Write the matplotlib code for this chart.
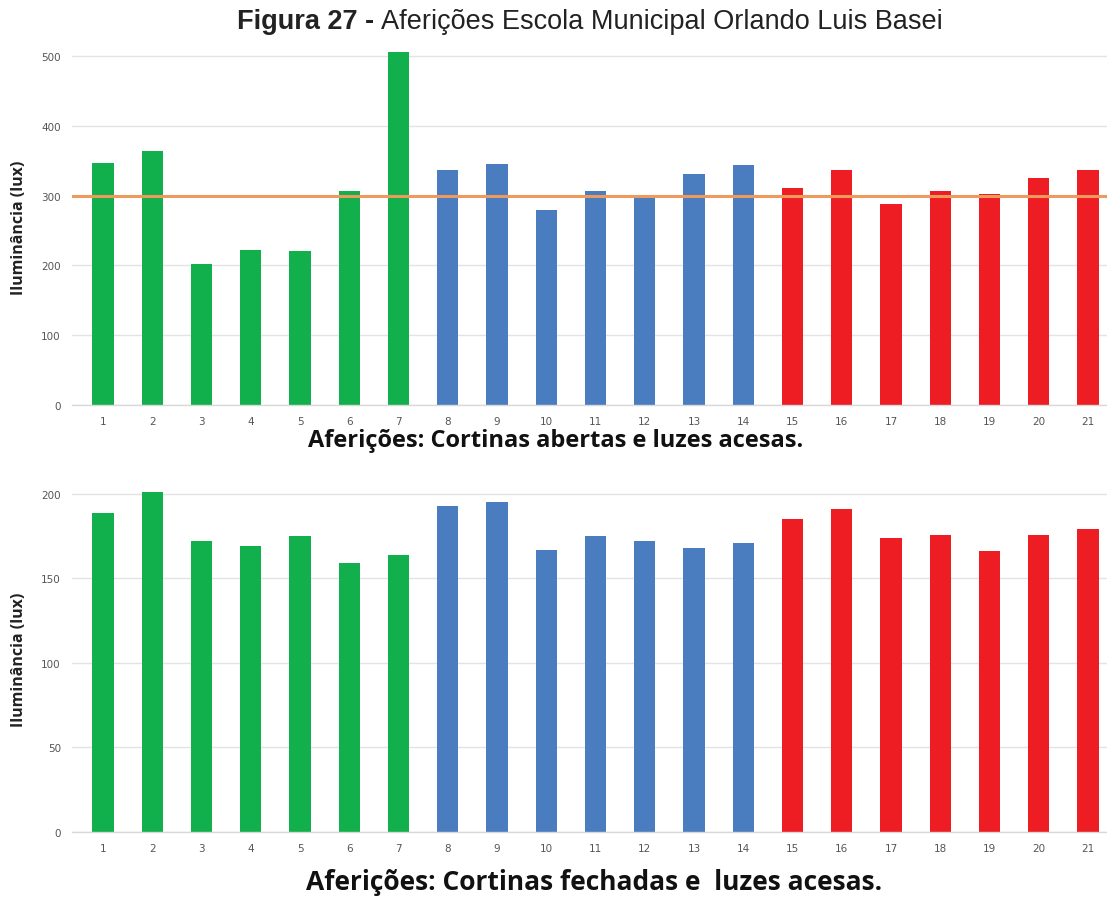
import matplotlib
matplotlib.use("Agg")
import matplotlib.pyplot as plt

# Measurement points and illuminance readings (lux)
points = list(range(1, 22))
labels = [str(p) for p in points]
open_curtains = [347, 364, 202, 222, 220, 307, 506, 337, 345, 279, 306,
                 297, 331, 344, 311, 337, 288, 306, 302, 325, 336]
closed_curtains = [189, 201, 172, 169, 175, 159, 164, 193, 195, 167, 175,
                   172, 168, 171, 185, 191, 174, 176, 166, 176, 179]
reference_lux = 300

# Three groups of rooms: 1-7, 8-14, 15-21
group_colors = ["#11b04c"] * 7 + ["#4a7cc0"] * 7 + ["#ee1d24"] * 7

W, H = 1107, 904
fig = plt.figure(figsize=(W / 100, H / 100), dpi=100)
fig.patch.set_facecolor("white")


def frac_box(left, top, right, bottom):
    return [left / W, 1 - bottom / H, (right - left) / W, (bottom - top) / H]


def style_axes(ax, yticks, ylim):
    ax.set_xlim(0.37, 21.386)
    ax.set_ylim(*ylim)
    ax.set_yticks(yticks)
    ax.set_xticks(points)
    ax.set_xticklabels(labels)
    for s in ["top", "right", "left"]:
        ax.spines[s].set_visible(False)
    ax.spines["bottom"].set_color("#d9d9d9")
    ax.spines["bottom"].set_linewidth(1.0)
    ax.grid(axis="y", color="#e3e3e3", linewidth=1.0)
    ax.set_axisbelow(True)
    ax.tick_params(axis="both", length=0, labelsize=7.5, colors="#555555",
                   pad=8)
    ax.set_ylabel("Iluminância (lux)", fontsize=11.5, fontweight="bold",
                  family="Open Sans", color="#222222")
    ax.yaxis.set_label_coords(-0.043, 0.5)
    ax.set_facecolor("white")


# Upper chart: curtains open
ax1 = fig.add_axes(frac_box(72, 50, 1107, 406))
ax1.bar(points, open_curtains, width=0.43, color=group_colors, zorder=2)
ax1.axhline(reference_lux, color="#ee9a5c", linewidth=2.2, zorder=3)
style_axes(ax1, [0, 100, 200, 300, 400, 500], (0, 510))

# Lower chart: curtains closed
ax2 = fig.add_axes(frac_box(72, 486.5, 1107, 833))
ax2.bar(points, closed_curtains, width=0.43, color=group_colors, zorder=2)
style_axes(ax2, [0, 50, 100, 150, 200], (0, 205))

# Figure title: bold prefix followed by regular text
fig.text(0.5, 1 - 22 / H, "Figura 27 - ", fontsize=19.5, fontweight="bold",
         family="Liberation Sans", ha="right", va="center", color="#222222")
fig.text(0.5, 1 - 22 / H, "Aferições Escola Municipal Orlando Luis Basei",
         fontsize=19.5, family="Liberation Sans", ha="left", va="center",
         color="#222222")

# Centre the combined title on the figure
fig.canvas.draw()
r = fig.canvas.get_renderer()
texts = fig.texts
bb0 = texts[0].get_window_extent(r)
bb1 = texts[1].get_window_extent(r)
total = bb1.x1 - bb0.x0
shift = (590 - total / 2) - bb0.x0
for t in texts:
    x, y = t.get_position()
    t.set_position((x + shift / W, y))

fig.text(556 / W, 1 - 441 / H, "Aferições: Cortinas abertas e luzes acesas.",
         fontsize=17, fontweight="bold", family="Open Sans", ha="center",
         va="center", color="#111111")
fig.text(594 / W, 1 - 883 / H, "Aferições: Cortinas fechadas e  luzes acesas.",
         fontsize=19, fontweight="bold", family="Open Sans", ha="center",
         va="center", color="#111111")

fig.savefig("out.png", dpi=100, facecolor="white")
